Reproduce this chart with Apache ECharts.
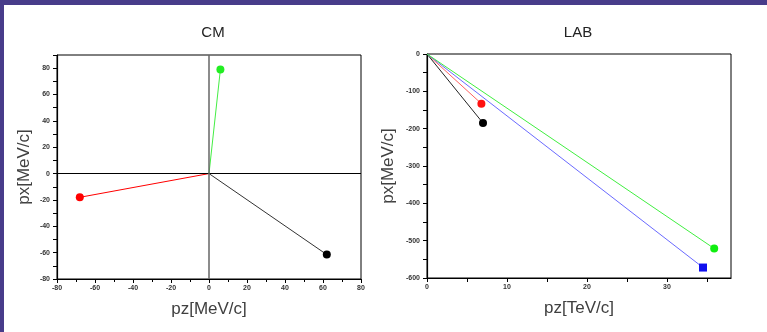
<!DOCTYPE html>
<html><head><meta charset="utf-8">
<script src="https://cdn.jsdelivr.net/npm/echarts@6/dist/echarts.min.js"></script>
<style>html,body{margin:0;padding:0;background:#fff}#c{width:767px;height:332px}</style>
</head><body><div id="c"></div>
<script>
// CM frame: end points of momentum vectors (start at origin)
const cmNames = ['red', 'green', 'black'];
const cmPz = [-68, 6, 62];
const cmPx = [-18, 79, -61.5];
// LAB frame
const labNames = ['red', 'black', 'blue', 'green'];
const labPz = [6.8, 7.0, 34.5, 35.9];
const labPx = [-133, -185, -572, -521];

const cmColors = {red: ['#ff0000', '#ff0000'], green: ['#44ee44', '#22ee22'], black: ['#333333', '#000000']};
const labColors = {red: ['#ff6060', '#ff1010'], black: ['#222222', '#000000'], blue: ['#6a6aff', '#1010ee'], green: ['#40ee40', '#10ee10']};
const labSymbols = {red: 'circle', black: 'circle', blue: 'rect', green: 'circle'};

const tickLabel = {fontSize: 7, color: '#333', fontFamily: 'Liberation Sans', fontWeight: 'bold'};
const nameStyle = {fontSize: 17, color: '#404040', fontFamily: 'Liberation Sans'};

function vec(x, y, color, sym, xi, yi, name) {
  return {
    type: 'line', name: name, xAxisIndex: xi, yAxisIndex: yi,
    data: [{value: [0, 0], symbol: 'none'}, [x, y]],
    symbol: sym, symbolSize: 8, showSymbol: true,
    lineStyle: {color: color[0], width: 1},
    itemStyle: {color: color[1]},
    silent: true, animation: false, z: 3
  };
}

const series = [];
cmNames.forEach((n, i) => series.push(vec(cmPz[i], cmPx[i], cmColors[n], 'circle', 0, 0, 'cm-' + n)));
labNames.forEach((n, i) => series.push(vec(labPz[i], labPx[i], labColors[n], labSymbols[n], 1, 1, 'lab-' + n)));
series.push({
  type: 'line', xAxisIndex: 0, yAxisIndex: 0, data: [], silent: true, animation: false, z: 2,
  markLine: {
    silent: true, symbol: 'none', label: {show: false}, animation: false,
    data: [
      {yAxis: 0, lineStyle: {color: '#000', width: 1, type: 'solid'}},
      {xAxis: 0, lineStyle: {color: '#666', width: 1.5, type: 'solid'}}
    ]
  }
});

const chart = echarts.init(document.getElementById('c'), null, {renderer: 'canvas'});
chart.setOption({
  backgroundColor: '#ffffff',
  animation: false,
  graphic: [
    {type: 'rect', shape: {x: 0, y: 0, width: 767, height: 5}, style: {fill: '#483c8a'}, z: 100},
    {type: 'rect', shape: {x: 0, y: 0, width: 4, height: 332}, style: {fill: '#483c8a'}, z: 100}
  ],
  title: [
    {text: 'CM', left: 208, top: 20, textAlign: 'center', textStyle: {fontSize: 15, fontWeight: 'normal', color: '#222', fontFamily: 'Liberation Sans Narrow, Liberation Sans'}},
    {text: 'LAB', left: 573, top: 20, textAlign: 'center', textStyle: {fontSize: 15, fontWeight: 'normal', color: '#222', fontFamily: 'Liberation Sans Narrow, Liberation Sans'}}
  ],
  grid: [
    {left: 57, top: 55, width: 304, height: 224, show: true, borderColor: '#000', borderWidth: 1, backgroundColor: 'transparent'},
    {left: 427, top: 54, width: 304, height: 224, show: true, borderColor: '#000', borderWidth: 1, backgroundColor: 'transparent'}
  ],
  xAxis: [
    {type: 'value', gridIndex: 0, min: -80, max: 80, interval: 20,
     axisLine: {onZero: false, lineStyle: {color: '#000', width: 1.2}},
     axisTick: {show: true, length: 4, lineStyle: {color: '#000'}},
     minorTick: {show: true, splitNumber: 2, length: 3, lineStyle: {color: '#000'}},
     splitLine: {show: false}, axisLabel: Object.assign({margin: 6}, tickLabel),
     name: 'pz[MeV/c]', nameLocation: 'middle', nameGap: 22, nameTextStyle: nameStyle},
    {type: 'value', gridIndex: 1, min: 0, max: 38, interval: 5,
     axisLine: {onZero: false, lineStyle: {color: '#000', width: 1.2}},
     axisTick: {show: true, length: 4, lineStyle: {color: '#000'}},
     splitLine: {show: false},
     axisLabel: Object.assign({margin: 6, formatter: v => (v % 10 === 0 ? String(v) : ''), showMaxLabel: false}, tickLabel),
     name: 'pz[TeV/c]', nameLocation: 'middle', nameGap: 22, nameTextStyle: nameStyle}
  ],
  yAxis: [
    {type: 'value', gridIndex: 0, min: -80, max: 90, interval: 10,
     axisLine: {onZero: false, lineStyle: {color: '#000', width: 1.2}},
     axisTick: {show: true, length: 4, lineStyle: {color: '#000'}},
     splitLine: {show: false},
     axisLabel: Object.assign({margin: 7, formatter: v => (v % 20 === 0 && v <= 80 ? String(v) : '')}, tickLabel),
     name: 'px[MeV/c]', nameLocation: 'middle', nameGap: 24, nameTextStyle: nameStyle},
    {type: 'value', gridIndex: 1, min: -600, max: 0, interval: 50,
     axisLine: {onZero: false, lineStyle: {color: '#000', width: 1.2}},
     axisTick: {show: true, length: 4, lineStyle: {color: '#000'}},
     splitLine: {show: false},
     axisLabel: Object.assign({margin: 7, formatter: v => (v % 100 === 0 ? String(v) : '')}, tickLabel),
     name: 'px[MeV/c]', nameLocation: 'middle', nameGap: 30, nameTextStyle: nameStyle}
  ],
  series: series
});
</script>
</body></html>
